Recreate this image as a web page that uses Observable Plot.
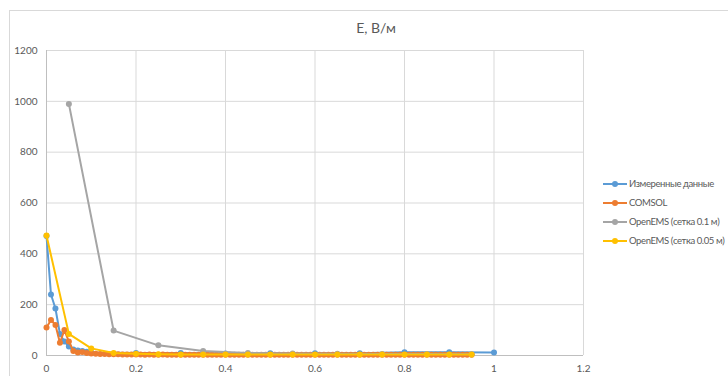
<!DOCTYPE html>
<html>
<head>
<meta charset="utf-8">
<script src="https://cdn.jsdelivr.net/npm/d3@7"></script>
<script src="https://cdn.jsdelivr.net/npm/@observablehq/plot@0.6"></script>
<style>
  html, body { margin: 0; padding: 0; background: #fff; }
  #wrap { position: relative; width: 728px; height: 376px; overflow: hidden; font-family: Lato, sans-serif; }
  #frame { position: absolute; left: 9px; top: 10px; width: 800px; height: 400px; border-left: 1px solid #d9d9d9; border-top: 1px solid #d9d9d9; }
  #chart { position: absolute; left: 0; top: 0; }
  #title { position: absolute; left: 0; width: 752px; top: 19px; text-align: center; font-size: 14px; color: #595959; }
  #legend { position: absolute; left: 603px; top: 174px; font-size: 9.5px; color: #595959; letter-spacing: -0.4px; }
  .li { display: flex; align-items: center; height: 19px; white-space: nowrap; }
  .li svg { margin-right: 2px; flex: none; }
</style>
</head>
<body>
<div id="wrap">
  <div id="frame"></div>
  <div id="chart"></div>
  <div id="title">E, В/м</div>
  <div id="legend"></div>
</div>
<script>
const seriesNames = ["Измеренные данные", "COMSOL", "OpenEMS (сетка 0.1 м)", "OpenEMS (сетка 0.05 м)"];
const seriesColors = ["#5B9BD5", "#ED7D31", "#A5A5A5", "#FFC000"];
const xTicks = [0, 0.2, 0.4, 0.6, 0.8, 1, 1.2];
const yTicks = [0, 200, 400, 600, 800, 1000, 1200];

const measX = [0, 0.01, 0.02, 0.03, 0.04, 0.05, 0.06, 0.07, 0.08, 0.09, 0.1, 0.2, 0.3, 0.4, 0.5, 0.6, 0.7, 0.8, 0.9, 1.0];
const measY = [470, 240, 185, 85, 55, 35, 24, 20, 18, 15, 12, 10, 10, 8, 9, 9, 9, 13, 13, 12];

const comsolX = [0, 0.01, 0.02, 0.03, 0.04, 0.05, 0.06, 0.07, 0.08, 0.09,
  0.10, 0.11, 0.12, 0.13, 0.14, 0.15, 0.16, 0.17, 0.18, 0.19,
  0.20, 0.21, 0.22, 0.23, 0.24, 0.25, 0.26, 0.27, 0.28, 0.29,
  0.30, 0.31, 0.32, 0.33, 0.34, 0.35, 0.36, 0.37, 0.38, 0.39,
  0.40, 0.41, 0.42, 0.43, 0.44, 0.45, 0.46, 0.47, 0.48, 0.49,
  0.50, 0.51, 0.52, 0.53, 0.54, 0.55, 0.56, 0.57, 0.58, 0.59,
  0.60, 0.61, 0.62, 0.63, 0.64, 0.65, 0.66, 0.67, 0.68, 0.69,
  0.70, 0.71, 0.72, 0.73, 0.74, 0.75, 0.76, 0.77, 0.78, 0.79,
  0.80, 0.81, 0.82, 0.83, 0.84, 0.85, 0.86, 0.87, 0.88, 0.89,
  0.90, 0.91, 0.92, 0.93, 0.94, 0.95];
const comsolY = [110, 140, 120, 50, 100, 55, 18, 12, 14, 10,
  8, 7, 6, 6, 5, 5, 5, 4, 4, 4,
  4, 4, 3, 4, 3, 3, 4, 3, 3, 3,
  3, 3, 3, 3, 3, 3, 3, 3, 3, 3,
  3, 3, 3, 3, 3, 3, 3, 3, 3, 3,
  3, 3, 3, 3, 3, 3, 3, 3, 3, 3,
  3, 3, 3, 3, 3, 3, 3, 3, 3, 3,
  3, 3, 3, 3, 3, 3, 3, 3, 3, 3,
  3, 3, 3, 3, 3, 3, 3, 3, 3, 3,
  3, 3, 3, 3, 3, 3];

const ems1X = [0.05, 0.15, 0.25, 0.35, 0.45, 0.55, 0.65, 0.75, 0.85, 0.95];
const ems1Y = [990, 98, 40, 18, 10, 8, 7, 6, 6, 5];

const ems2X = [0, 0.05, 0.1, 0.15, 0.2, 0.25, 0.3, 0.35, 0.4, 0.45, 0.5, 0.55, 0.6, 0.65, 0.7, 0.75, 0.8, 0.85, 0.9, 0.95];
const ems2Y = [472, 85, 28, 10, 7, 5, 4, 4, 4, 4, 4, 4, 4, 4, 4, 4, 4, 4, 4, 4];

const seriesX = [measX, comsolX, ems1X, ems2X];
const seriesY = [measY, comsolY, ems1Y, ems2Y];
const series = seriesX.map((xs, i) => xs.map((x, j) => ({x, y: seriesY[i][j]})));

const marks = [
  Plot.gridX(xTicks, {stroke: "#d9d9d9", strokeOpacity: 1}),
  Plot.gridY(yTicks, {stroke: "#d9d9d9", strokeOpacity: 1}),
  Plot.ruleX([0], {stroke: "#bfbfbf"}),
  Plot.ruleY([0], {stroke: "#bfbfbf"}),
  Plot.axisX(xTicks, {tickSize: 0, tickPadding: 9, label: null, tickFormat: d => String(d), fill: "#595959"}),
  Plot.axisY(yTicks, {tickSize: 0, tickPadding: 9, label: null, tickFormat: d => String(d), fill: "#595959"})
];
series.forEach((data, i) => {
  marks.push(Plot.line(data, {x: "x", y: "y", stroke: seriesColors[i], strokeWidth: 2}));
  marks.push(Plot.dot(data, {x: "x", y: "y", fill: seriesColors[i], r: 3}));
});

const chart = Plot.plot({
  width: 728, height: 376,
  marginLeft: 46, marginRight: 145, marginTop: 50, marginBottom: 21,
  style: {fontFamily: "Lato, sans-serif", fontSize: "10px", background: "transparent", color: "#595959"},
  x: {domain: [0, 1.2]},
  y: {domain: [0, 1200]},
  marks
});
document.getElementById("chart").appendChild(chart);

const legend = document.getElementById("legend");
seriesNames.forEach((name, i) => {
  const row = document.createElement("div");
  row.className = "li";
  row.innerHTML = `<svg width="24" height="8"><line x1="0" y1="4" x2="24" y2="4" stroke="${seriesColors[i]}" stroke-width="2"/><circle cx="12" cy="4" r="3" fill="${seriesColors[i]}"/></svg>`;
  const span = document.createElement("span");
  span.textContent = name;
  row.appendChild(span);
  legend.appendChild(row);
});
</script>
</body>
</html>
